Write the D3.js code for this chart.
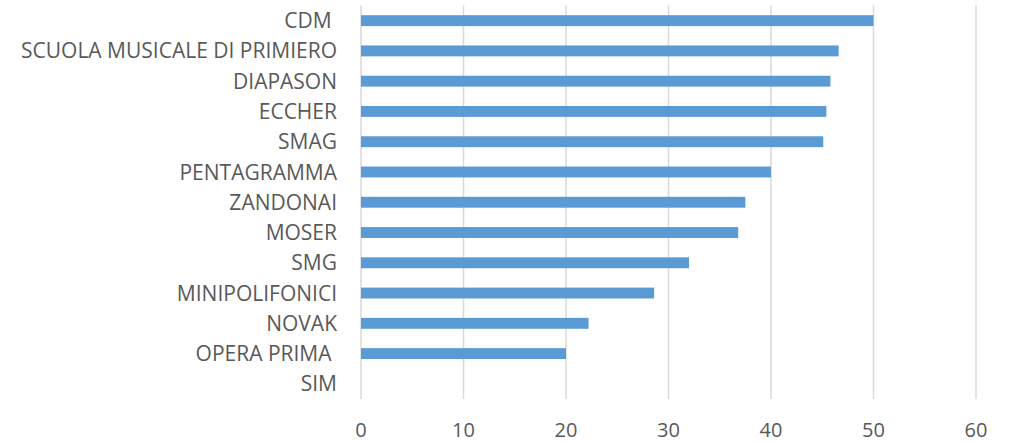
<!DOCTYPE html>
<html>
<head>
<meta charset="utf-8">
<script src="https://cdn.jsdelivr.net/npm/d3@7"></script>
<style>
  body { margin: 0; background: #fff; }
  svg text { font-family: "Open Sans", sans-serif; fill: #595959; }
</style>
</head>
<body>
<svg id="chart" width="1013" height="442"></svg>
<script>
// schools, top to bottom
const schools = ["CDM ", "SCUOLA MUSICALE DI PRIMIERO", "DIAPASON", "ECCHER", "SMAG",
  "PENTAGRAMMA", "ZANDONAI", "MOSER", "SMG", "MINIPOLIFONICI", "NOVAK", "OPERA PRIMA ", "SIM"];
const values = [50, 46.6, 45.8, 45.4, 45.1, 40, 37.5, 36.8, 32, 28.6, 22.2, 20, 0];
const xTicks = [0, 10, 20, 30, 40, 50, 60];

const svg = d3.select("#chart");
const m = { left: 361, right: 37, top: 5.5, bottom: 43 };
const W = 1013, H = 442;

const x = d3.scaleLinear().domain([0, 60]).range([m.left, W - m.right]);
const y = d3.scaleBand().domain(schools).range([m.top, H - m.bottom]).paddingInner(0.64).paddingOuter(0.32);

// gridlines
svg.append("g")
  .selectAll("line")
  .data(xTicks)
  .join("line")
  .attr("x1", d => x(d)).attr("x2", d => x(d))
  .attr("y1", m.top).attr("y2", H - m.bottom)
  .attr("stroke", "#d9d9d9")
  .attr("stroke-width", 1.5);

// bars
svg.append("g")
  .selectAll("rect")
  .data(values)
  .join("rect")
  .attr("x", x(0))
  .attr("y", (d, i) => y(schools[i]))
  .attr("width", d => x(d) - x(0))
  .attr("height", y.bandwidth())
  .attr("fill", "#5b9bd5");

// category labels
svg.append("g")
  .selectAll("text")
  .data(schools)
  .join("text")
  .attr("x", m.left - 24)
  .attr("y", d => y(d) + y.bandwidth() / 2)
  .attr("dy", "0.36em")
  .attr("text-anchor", "end")
  .style("font-size", "21px")
  .style("white-space", "pre")
  .attr("xml:space", "preserve")
  .text(d => d);

// x tick labels
svg.append("g")
  .selectAll("text")
  .data(xTicks)
  .join("text")
  .attr("x", d => x(d))
  .attr("y", 437)
  .attr("text-anchor", "middle")
  .style("font-size", "20px")
  .text(d => d);
</script>
</body>
</html>
